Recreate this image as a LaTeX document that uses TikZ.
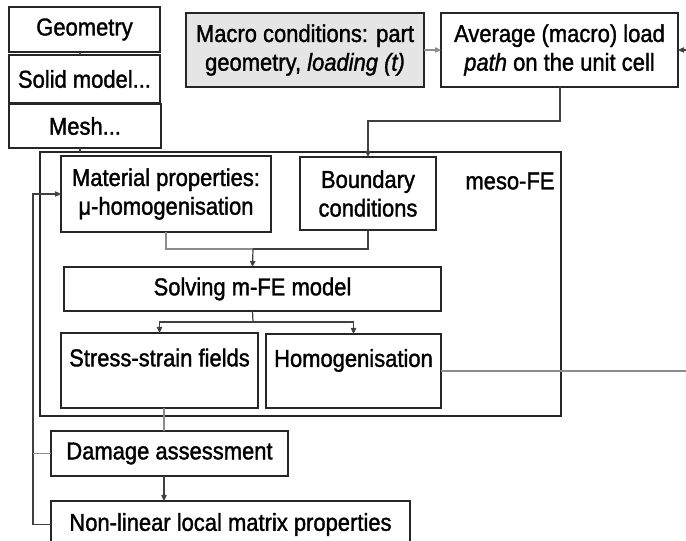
\documentclass[tikz,border=0pt]{standalone}
\usepackage{fontspec}
\setmainfont[FakeStretch=0.9,FakeBold=1.4]{Liberation Sans}
\usetikzlibrary{arrows.meta}
\newcommand\mkbox[7][]{\node[box,#1,minimum width={(#5-#3)*0.75pt},minimum height={(#6-#4)*0.75pt}] (#2) at ({(#3+#5)/2},{(#4+#6)/2}) {#7};}
\tikzset{
  box/.style={draw=black!85, line width=1.05pt, inner sep=0pt, outer sep=0pt, align=center, font=\fontsize{18.3}{21.5}\selectfont},
  ln/.style={draw=black!75, line width=0.9pt},
  gln/.style={draw=black!45, line width=0.9pt},
  arr/.style={-{Triangle[length=4.5pt,width=4pt]}},
}
\begin{document}
\begin{tikzpicture}[x=0.75pt,y=-0.75pt]
\useasboundingbox (0,0) rectangle (686,541);
\fill[white] (0,0) rectangle (686,541);
% boxes
\mkbox{geo}{9}{7}{160}{52}{Geometry}
\mkbox{solid}{9}{55}{160}{103}{Solid model...}
\mkbox{mesh}{9}{104}{161}{148}{Mesh...}
\mkbox[fill=black!10]{macro}{186}{13}{424}{87}{Macro conditions: part\\geometry, \textit{loading (t)}}
\mkbox{avg}{441}{13}{678}{87}{Average (macro) load\\\textit{path} on the unit cell}
\mkbox{meso}{40}{152}{561}{416}{}
\node[font=\fontsize{18.3}{21.5}\selectfont, inner sep=0pt] (mesolabel) at (510,181) {meso-FE};
\mkbox{mat}{61}{156}{271}{232}{Material properties:\\μ-homogenisation}
\mkbox{bc}{300}{157}{436}{230}{Boundary\\conditions}
\mkbox{solve}{64}{267}{441}{311}{Solving m-FE model}
\mkbox{stress}{61}{333}{258}{408}{Stress-strain fields\\[-2pt]\mbox{}}
\mkbox{homog}{266}{334}{441}{408}{Homogenisation\\[-2pt]\mbox{}}
\mkbox{damage}{51}{431}{288}{476}{Damage assessment}
\mkbox{nonlin}{51}{501}{410}{548}{Non-linear local matrix properties}
% helper coordinates
\coordinate (c1) at (560,121);
\coordinate (c2) at (166,249);
\coordinate (c3) at (253,249);
\coordinate (c4) at (253,322);
\coordinate (edge) at (686,371);
\coordinate (edge2) at (687,50);
\coordinate (c7) at (164,0);
\coordinate (c8) at (33,0);
\coordinate (c10) at (80,0);
% connectors
\draw[ln] (geo.south -| c10) -- (solid.north -| c10);
\draw[ln] (mesh.south -| c10) -- (meso.north -| c10);
\draw[gln,arr] (macro.east) -- (avg.west);
\draw[ln,arr] (edge2) -- (avg.east);
\draw[ln,arr] (avg.south -| c1) -- (c1) -| (bc.north);
\draw[gln] (mat.south -| c2) |- (c3);
\draw[ln] (bc.south) |- (c3);
\draw[ln,arr] (c3) -- (solve.north);
\draw[ln] (solve.south) -- (c4);
\draw[ln,arr] (c4) -| (stress.north);
\draw[ln,arr] (c4) -| (homog.north);
\draw[gln] (homog.east) -- (edge);
\draw[gln] (stress.south -| c7) -- (damage.north -| c7);
\draw[ln,arr] (damage.south -| c7) -- (nonlin.north -| c7);
\draw[ln,arr] (nonlin.west) -- (nonlin.west -| c8) |- (mat.west);
\draw[gln] (damage.west) -- (damage.west -| c8);
\end{tikzpicture}
\end{document}
